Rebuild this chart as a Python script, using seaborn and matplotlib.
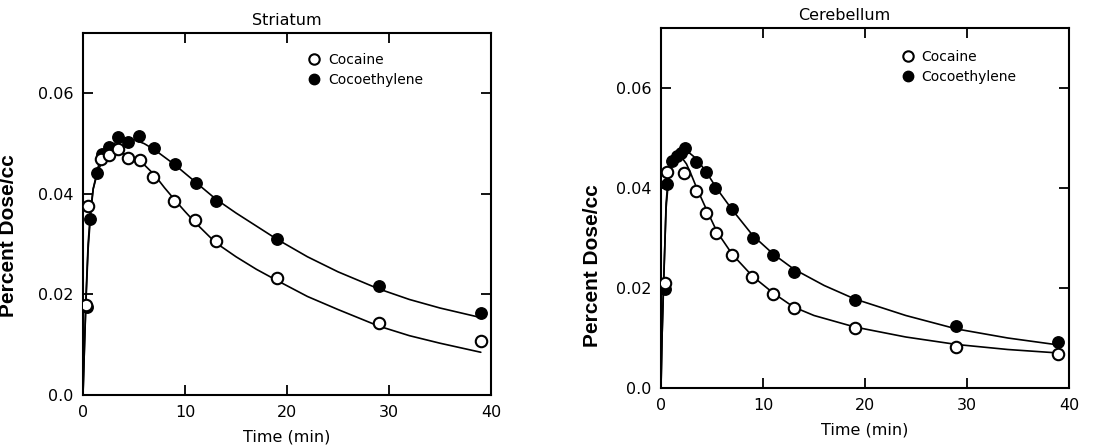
import matplotlib
matplotlib.use("Agg")
import matplotlib.pyplot as plt
from matplotlib.lines import Line2D
import seaborn as sns
import pandas as pd

# ---------------- data ----------------
# Striatum
str_coc_t = [0.3, 0.52, 1.76, 2.5, 3.46, 4.45, 5.6, 6.9, 8.9, 11.0, 13.0, 19.05, 29.05, 39.0]
str_coc_y = [0.0180, 0.0375, 0.0470, 0.0477, 0.0490, 0.0472, 0.0467, 0.0434, 0.0386, 0.0348,
             0.0306, 0.0232, 0.0144, 0.0108]
str_coe_t = [0.36, 0.69, 1.34, 1.83, 2.5, 3.46, 4.45, 5.5, 6.96, 9.0, 11.05, 13.0, 19.05, 29.05, 39.0]
str_coe_y = [0.0175, 0.0351, 0.0441, 0.0480, 0.0493, 0.0514, 0.0503, 0.0516, 0.0492, 0.0459,
             0.0422, 0.0386, 0.0310, 0.0217, 0.0163]

# Striatum fitted curves
str_coc_fit_t = [0, 0.15, 0.3, 0.5, 0.75, 1.0, 1.5, 2, 3, 4, 5, 6, 7, 8, 9, 10, 11, 13, 15, 17,
                 19, 22, 25, 29, 32, 35, 39]
str_coc_fit_y = [0.0, 0.010, 0.020, 0.030, 0.037, 0.041, 0.0448, 0.0468, 0.0482, 0.0480, 0.0472,
                 0.0458, 0.0438, 0.0412, 0.0388, 0.0365, 0.0343, 0.0303, 0.0275, 0.0250, 0.0228,
                 0.0196, 0.0170, 0.0137, 0.0118, 0.0103, 0.0085]
str_coe_fit_t = [0, 0.15, 0.3, 0.5, 0.75, 1.0, 1.5, 2, 3, 4, 5, 6, 7, 9, 11, 13, 15, 19, 22, 25,
                 29, 32, 35, 39]
str_coe_fit_y = [0.0, 0.010, 0.019, 0.029, 0.036, 0.041, 0.0455, 0.0480, 0.0500, 0.0508, 0.0508,
                 0.0500, 0.0488, 0.0458, 0.0424, 0.0390, 0.0362, 0.0310, 0.0275, 0.0245, 0.0211,
                 0.0190, 0.0173, 0.0154]

# Cerebellum
cer_coc_t = [0.36, 0.56, 2.3, 3.4, 4.4, 5.4, 7.0, 8.95, 11.0, 13.04, 19.0, 28.95, 38.9]
cer_coc_y = [0.0210, 0.0433, 0.0431, 0.0395, 0.0351, 0.0310, 0.0267, 0.0222, 0.0189, 0.0160,
             0.0121, 0.0082, 0.0068]
cer_coe_t = [0.36, 0.56, 1.1, 1.6, 2.0, 2.4, 3.4, 4.4, 5.3, 7.0, 9.0, 11.0, 13.0, 19.0, 28.95, 38.9]
cer_coe_y = [0.0198, 0.0408, 0.0455, 0.0465, 0.0470, 0.0480, 0.0452, 0.0432, 0.0400, 0.0358,
             0.0301, 0.0266, 0.0233, 0.0177, 0.0125, 0.0093]

cer_coc_fit_t = [0, 0.1, 0.25, 0.5, 0.75, 1.0, 1.5, 2.0, 2.5, 3.0, 3.5, 4.5, 5.5, 7, 9, 11, 13,
                 15, 19, 24, 29, 34, 39]
cer_coc_fit_y = [0.0, 0.010, 0.021, 0.036, 0.042, 0.0445, 0.0458, 0.0462, 0.0448, 0.0425, 0.0400,
                 0.0355, 0.0312, 0.0267, 0.0223, 0.0190, 0.0162, 0.0145, 0.0122, 0.0102, 0.0087,
                 0.0077, 0.0070]
cer_coe_fit_t = [0, 0.1, 0.25, 0.5, 0.75, 1.0, 1.5, 2.0, 2.5, 3.5, 4.5, 5.5, 7, 9, 11, 13, 16,
                 19, 24, 29, 34, 39]
cer_coe_fit_y = [0.0, 0.010, 0.020, 0.037, 0.043, 0.0455, 0.0466, 0.0472, 0.0475, 0.0458, 0.0430,
                 0.0398, 0.0356, 0.0305, 0.0268, 0.0238, 0.0205, 0.0178, 0.0145, 0.0118, 0.0100,
                 0.0086]

series_labels = ["Cocaine", "Cocoethylene"]
panel_titles = ["Striatum", "Cerebellum"]
x_ticks = [0, 10, 20, 30, 40]
y_ticks = [0.0, 0.02, 0.04, 0.06]
y_tick_labels = ["0.0", "0.02", "0.04", "0.06"]
x_label = "Time (min)"
y_label = "Percent Dose/cc"

# ---------------- style ----------------
sns.set_style("ticks")
plt.rcParams["font.family"] = ["DejaVu Sans"]
for key in ["text.color", "axes.labelcolor", "xtick.color", "ytick.color",
            "axes.edgecolor"]:
    plt.rcParams[key] = "black"

fig = plt.figure(figsize=(10.94, 4.47), dpi=100)
W, H = 1094, 447
ax_left = fig.add_axes([83 / W, (H - 395) / H, 408 / W, 362 / H])
ax_right = fig.add_axes([661 / W, (H - 388) / H, 408 / W, 360 / H])

panels = [
    (ax_left, str_coc_t, str_coc_y, str_coe_t, str_coe_y,
     str_coc_fit_t, str_coc_fit_y, str_coe_fit_t, str_coe_fit_y,
     (0.55, 0.945), (-0.160, 0.44), 0.5),
    (ax_right, cer_coc_t, cer_coc_y, cer_coe_t, cer_coe_y,
     cer_coc_fit_t, cer_coc_fit_y, cer_coe_fit_t, cer_coe_fit_y,
     (0.588, 0.939), (-0.145, 0.34), 0.45),
]

for i, (ax, ct, cy, et, ey, cft, cfy, eft, efy, leg_pos, lab_pos, title_x) in enumerate(panels):
    fit_c = pd.DataFrame({"t": cft, "y": cfy})
    fit_e = pd.DataFrame({"t": eft, "y": efy})
    sns.lineplot(data=fit_c, x="t", y="y", ax=ax, color="black", lw=1.2,
                 estimator=None, sort=False)
    sns.lineplot(data=fit_e, x="t", y="y", ax=ax, color="black", lw=1.2,
                 estimator=None, sort=False)

    pts_c = pd.DataFrame({"t": ct, "y": cy})
    pts_e = pd.DataFrame({"t": et, "y": ey})
    sns.scatterplot(data=pts_e, x="t", y="y", ax=ax, s=68, color="black",
                    edgecolor="black", linewidth=1.0, zorder=3)
    sns.scatterplot(data=pts_c, x="t", y="y", ax=ax, s=68, facecolor="white",
                    edgecolor="black", linewidth=1.5, zorder=4)

    ax.set_xlim(0, 40)
    ax.set_ylim(0, 0.072)
    ax.set_xticks(x_ticks)
    ax.set_xticklabels([str(v) for v in x_ticks])
    ax.set_yticks(y_ticks)
    ax.set_yticklabels(y_tick_labels)
    ax.tick_params(direction="in", top=True, right=True, length=7, width=1.3,
                   labelsize=11.5, pad=7, colors="black")
    for sp in ax.spines.values():
        sp.set_visible(True)
        sp.set_linewidth(1.5)
        sp.set_color("black")

    ax.set_title(panel_titles[i], fontsize=11.5, pad=6, x=title_x, color="black")
    ax.set_xlabel(x_label, fontsize=11.5, labelpad=7, color="black")
    ax.set_ylabel(y_label, fontsize=15, fontweight="bold", color="black",
                  family=["Liberation Sans", "DejaVu Sans"])
    ax.yaxis.set_label_coords(*lab_pos)

    handles = [
        Line2D([], [], ls="none", marker="o", markersize=7.5, markerfacecolor="white",
               markeredgecolor="black", markeredgewidth=1.5),
        Line2D([], [], ls="none", marker="o", markersize=7.5, markerfacecolor="black",
               markeredgecolor="black"),
    ]
    leg = ax.legend(handles, series_labels, loc="upper left", bbox_to_anchor=leg_pos,
                    frameon=False, fontsize=10, handlelength=1.0, handletextpad=0.5,
                    borderpad=0, borderaxespad=0, labelspacing=0.45)
    for txt in leg.get_texts():
        txt.set_color("black")

fig.savefig("out.png", dpi=100)
